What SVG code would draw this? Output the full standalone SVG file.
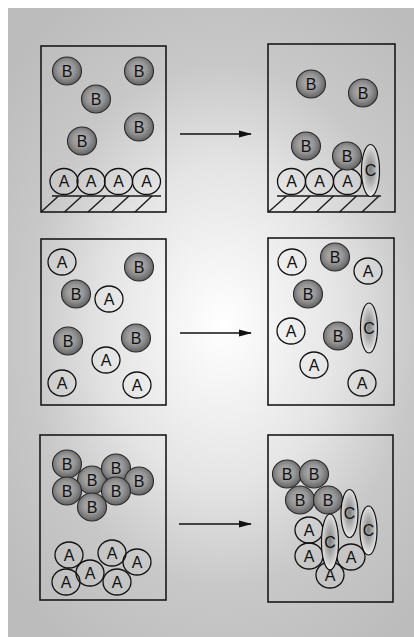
<svg xmlns="http://www.w3.org/2000/svg" width="414" height="637" viewBox="0 0 414 637">
  <style>
    .panel { fill: none; stroke: #1a1a1a; stroke-width: 1.6; }
    .hatch { fill: none; stroke: #1a1a1a; stroke-width: 1.4; }
    .a { fill: none; stroke: #111; stroke-width: 1.3; }
    .b { fill: url(#gB); stroke: #2a2a2a; stroke-width: 1.1; }
    .c { fill: url(#gC); stroke: #111; stroke-width: 1.2; }
    text { font-family: "Liberation Sans", Arial, sans-serif; font-size: 16px; fill: #111; text-anchor: middle; }
    .arrow { stroke: #111; stroke-width: 1.6; fill: none; }
  </style>
  <defs>
    <radialGradient id="bg" gradientUnits="userSpaceOnUse" cx="222" cy="325" r="285" gradientTransform="translate(222 325) scale(1 1.35) translate(-222 -325)">
      <stop offset="0" stop-color="#ffffff"/>
      <stop offset="0.42" stop-color="#e4e4e4"/>
      <stop offset="0.68" stop-color="#c8c8c8"/>
      <stop offset="1" stop-color="#bcbcbc"/>
    </radialGradient>
    <radialGradient id="gB" cx="0.47" cy="0.45" r="0.55">
      <stop offset="0" stop-color="#b8b8b8"/>
      <stop offset="0.55" stop-color="#959595"/>
      <stop offset="1" stop-color="#626262"/>
    </radialGradient>
    <radialGradient id="gC" cx="0.5" cy="0.48" r="0.55">
      <stop offset="0" stop-color="#7e7e7e"/>
      <stop offset="0.5" stop-color="#b4b4b4"/>
      <stop offset="1" stop-color="#f2f2f2"/>
    </radialGradient>
    <marker id="head" markerUnits="userSpaceOnUse" markerWidth="13" markerHeight="8" refX="12" refY="4" orient="auto">
      <path d="M0,0.6 L13,4 L0,7.4 z" fill="#111"/>
    </marker>
  </defs>

  <!-- backdrop -->
  <rect x="0" y="0" width="414" height="637" fill="#ffffff"/>
  <rect x="8" y="8" width="406" height="629" fill="url(#bg)"/>

  <!-- top left: B particles above a surface covered with A -->
  <g id="panel-1">
    <rect class="panel" x="41" y="46" width="125" height="166"/>
    <g class="hatch">
      <line x1="52" y1="196" x2="161" y2="196"/>
      <line x1="41" y1="212" x2="58.5" y2="196"/>
      <line x1="64.5" y1="212" x2="82" y2="196"/>
      <line x1="88" y1="212" x2="105.5" y2="196"/>
      <line x1="111.5" y1="212" x2="129" y2="196"/>
      <line x1="135" y1="212" x2="152" y2="196"/>
    </g>
    <g id="p1-a1"><ellipse class="a" cx="64" cy="181.5" rx="14" ry="13"/><text x="64" y="187.2">A</text></g>
    <g id="p1-a2"><ellipse class="a" cx="91" cy="181.5" rx="14" ry="13"/><text x="91" y="187.2">A</text></g>
    <g id="p1-a3"><ellipse class="a" cx="118.5" cy="181.5" rx="14" ry="13"/><text x="118.5" y="187.2">A</text></g>
    <g id="p1-a4"><ellipse class="a" cx="146.5" cy="181.5" rx="14" ry="13"/><text x="146.5" y="187.2">A</text></g>
    <g id="p1-b1"><ellipse class="b" cx="67" cy="71" rx="14.5" ry="14"/><text x="67" y="76.7">B</text></g>
    <g id="p1-b2"><ellipse class="b" cx="139" cy="71" rx="14.5" ry="14"/><text x="139" y="76.7">B</text></g>
    <g id="p1-b3"><ellipse class="b" cx="96" cy="99" rx="14.5" ry="14"/><text x="96" y="104.7">B</text></g>
    <g id="p1-b4"><ellipse class="b" cx="139" cy="127" rx="14.5" ry="14"/><text x="139" y="132.7">B</text></g>
    <g id="p1-b5"><ellipse class="b" cx="82" cy="141" rx="14.5" ry="14"/><text x="82" y="146.7">B</text></g>
  </g>

  <!-- top right: B bound on the surface, C formed -->
  <g id="panel-2">
    <rect class="panel" x="268" y="44" width="127" height="168"/>
    <g class="hatch">
      <line x1="277" y1="196" x2="381" y2="196"/>
      <line x1="268.5" y1="212" x2="286.5" y2="196"/>
      <line x1="293" y1="212" x2="310" y2="196"/>
      <line x1="316.5" y1="212" x2="333.5" y2="196"/>
      <line x1="339.5" y1="212" x2="356.5" y2="196"/>
      <line x1="362" y1="212" x2="379" y2="196"/>
    </g>
    <g id="p2-a1"><ellipse class="a" cx="291.5" cy="181.5" rx="14" ry="13"/><text x="291.5" y="187.2">A</text></g>
    <g id="p2-a2"><ellipse class="a" cx="319.5" cy="181.5" rx="14" ry="13"/><text x="319.5" y="187.2">A</text></g>
    <g id="p2-a3"><ellipse class="a" cx="347.5" cy="181.5" rx="14" ry="13"/><text x="347.5" y="187.2">A</text></g>
    <g id="p2-b1"><ellipse class="b" cx="311" cy="84" rx="14.5" ry="14"/><text x="311" y="89.7">B</text></g>
    <g id="p2-b2"><ellipse class="b" cx="363" cy="93" rx="14.5" ry="14"/><text x="363" y="98.7">B</text></g>
    <g id="p2-b3"><ellipse class="b" cx="306" cy="146" rx="14.5" ry="14"/><text x="306" y="151.7">B</text></g>
    <g id="p2-b4"><ellipse class="b" cx="347" cy="156" rx="14.5" ry="14"/><text x="347" y="161.7">B</text></g>
    <g id="p2-c1"><ellipse class="c" cx="370.5" cy="170.5" rx="9" ry="26"/><text x="370.5" y="176.2">C</text></g>
  </g>

  <!-- middle left: A and B mixed -->
  <g id="panel-3">
    <rect class="panel" x="41" y="239" width="125" height="166"/>
    <g id="p3-a1"><ellipse class="a" cx="62" cy="262" rx="14" ry="13"/><text x="62" y="267.7">A</text></g>
    <g id="p3-a2"><ellipse class="a" cx="109" cy="299" rx="14" ry="13"/><text x="109" y="304.7">A</text></g>
    <g id="p3-a3"><ellipse class="a" cx="106" cy="360" rx="14" ry="13"/><text x="106" y="365.7">A</text></g>
    <g id="p3-a4"><ellipse class="a" cx="62" cy="383" rx="14" ry="13"/><text x="62" y="388.7">A</text></g>
    <g id="p3-a5"><ellipse class="a" cx="137" cy="385" rx="14" ry="13"/><text x="137" y="390.7">A</text></g>
    <g id="p3-b1"><ellipse class="b" cx="139" cy="267" rx="14.5" ry="14"/><text x="139" y="272.7">B</text></g>
    <g id="p3-b2"><ellipse class="b" cx="76" cy="294" rx="14.5" ry="14"/><text x="76" y="299.7">B</text></g>
    <g id="p3-b3"><ellipse class="b" cx="68" cy="341" rx="14.5" ry="14"/><text x="68" y="346.7">B</text></g>
    <g id="p3-b4"><ellipse class="b" cx="136" cy="338" rx="14.5" ry="14"/><text x="136" y="343.7">B</text></g>
  </g>

  <!-- middle right: one C formed in solution -->
  <g id="panel-4">
    <rect class="panel" x="268" y="238" width="126" height="167"/>
    <g id="p4-a1"><ellipse class="a" cx="292" cy="262" rx="14" ry="13"/><text x="292" y="267.7">A</text></g>
    <g id="p4-a2"><ellipse class="a" cx="368" cy="271" rx="14" ry="13"/><text x="368" y="276.7">A</text></g>
    <g id="p4-a3"><ellipse class="a" cx="291" cy="331" rx="14" ry="13"/><text x="291" y="336.7">A</text></g>
    <g id="p4-a4"><ellipse class="a" cx="314" cy="365" rx="14" ry="13"/><text x="314" y="370.7">A</text></g>
    <g id="p4-a5"><ellipse class="a" cx="362" cy="383" rx="14" ry="13"/><text x="362" y="388.7">A</text></g>
    <g id="p4-b1"><ellipse class="b" cx="335" cy="257" rx="14.5" ry="14"/><text x="335" y="262.7">B</text></g>
    <g id="p4-b2"><ellipse class="b" cx="308" cy="294" rx="14.5" ry="14"/><text x="308" y="299.7">B</text></g>
    <g id="p4-b3"><ellipse class="b" cx="338" cy="336" rx="14.5" ry="14"/><text x="338" y="341.7">B</text></g>
    <g id="p4-c1"><ellipse class="c" cx="369" cy="328" rx="8.5" ry="25"/><text x="369" y="333.7">C</text></g>
  </g>

  <!-- bottom left: B cluster and A cluster -->
  <g id="panel-5">
    <rect class="panel" x="40" y="435" width="126" height="165"/>
    <g id="p5-b2"><ellipse class="b" cx="92" cy="480" rx="14.5" ry="14"/><text x="92" y="485.7">B</text></g>
    <g id="p5-b7"><ellipse class="b" cx="92" cy="507" rx="14.5" ry="14"/><text x="92" y="512.7">B</text></g>
    <g id="p5-b1"><ellipse class="b" cx="67" cy="464" rx="14.5" ry="14"/><text x="67" y="469.7">B</text></g>
    <g id="p5-b3"><ellipse class="b" cx="116" cy="468" rx="14.5" ry="14"/><text x="116" y="473.7">B</text></g>
    <g id="p5-b4"><ellipse class="b" cx="139" cy="481" rx="14.5" ry="14"/><text x="139" y="486.7">B</text></g>
    <g id="p5-b5"><ellipse class="b" cx="67" cy="491" rx="14.5" ry="14"/><text x="67" y="496.7">B</text></g>
    <g id="p5-b6"><ellipse class="b" cx="116" cy="491" rx="14.5" ry="14"/><text x="116" y="496.7">B</text></g>
    <g id="p5-a1"><ellipse class="a" cx="69" cy="555" rx="14" ry="13"/><text x="69" y="560.7">A</text></g>
    <g id="p5-a2"><ellipse class="a" cx="112" cy="553" rx="14" ry="13"/><text x="112" y="558.7">A</text></g>
    <g id="p5-a3"><ellipse class="a" cx="137" cy="562" rx="14" ry="13"/><text x="137" y="567.7">A</text></g>
    <g id="p5-a4"><ellipse class="a" cx="90" cy="573" rx="14" ry="13"/><text x="90" y="578.7">A</text></g>
    <g id="p5-a5"><ellipse class="a" cx="66" cy="582" rx="14" ry="13"/><text x="66" y="587.7">A</text></g>
    <g id="p5-a6"><ellipse class="a" cx="117" cy="582" rx="14" ry="13"/><text x="117" y="587.7">A</text></g>
  </g>

  <!-- bottom right: C formed between the clusters -->
  <g id="panel-6">
    <rect class="panel" x="268" y="435" width="125" height="167"/>
    <g id="p6-b1"><ellipse class="b" cx="287" cy="474" rx="14.5" ry="14"/><text x="287" y="479.7">B</text></g>
    <g id="p6-b2"><ellipse class="b" cx="314" cy="474" rx="14.5" ry="14"/><text x="314" y="479.7">B</text></g>
    <g id="p6-b3"><ellipse class="b" cx="300" cy="500" rx="14.5" ry="14"/><text x="300" y="505.7">B</text></g>
    <g id="p6-b4"><ellipse class="b" cx="328" cy="500" rx="14.5" ry="14"/><text x="328" y="505.7">B</text></g>
    <g id="p6-a1"><ellipse class="a" cx="309" cy="530" rx="14" ry="13"/><text x="309" y="535.7">A</text></g>
    <g id="p6-a2"><ellipse class="a" cx="309" cy="556" rx="14" ry="13"/><text x="309" y="561.7">A</text></g>
    <g id="p6-a3"><ellipse class="a" cx="330" cy="575" rx="14" ry="13"/><text x="330" y="580.7">A</text></g>
    <g id="p6-a4"><ellipse class="a" cx="351" cy="557" rx="14" ry="13"/><text x="351" y="562.7">A</text></g>
    <g id="p6-c1"><ellipse class="c" cx="330" cy="542" rx="8.5" ry="28"/><text x="330" y="547.7">C</text></g>
    <g id="p6-c2"><ellipse class="c" cx="349.5" cy="513.5" rx="8.5" ry="24"/><text x="349.5" y="519.2">C</text></g>
    <g id="p6-c3"><ellipse class="c" cx="368.5" cy="530.5" rx="8.5" ry="24.5"/><text x="368.5" y="536.2">C</text></g>
  </g>

  <!-- reaction arrows -->
  <g id="connectors">
    <line class="arrow" x1="180" y1="134" x2="251" y2="134" marker-end="url(#head)"/>
    <line class="arrow" x1="180" y1="333" x2="251" y2="333" marker-end="url(#head)"/>
    <line class="arrow" x1="179" y1="524" x2="251" y2="524" marker-end="url(#head)"/>
  </g>
</svg>
